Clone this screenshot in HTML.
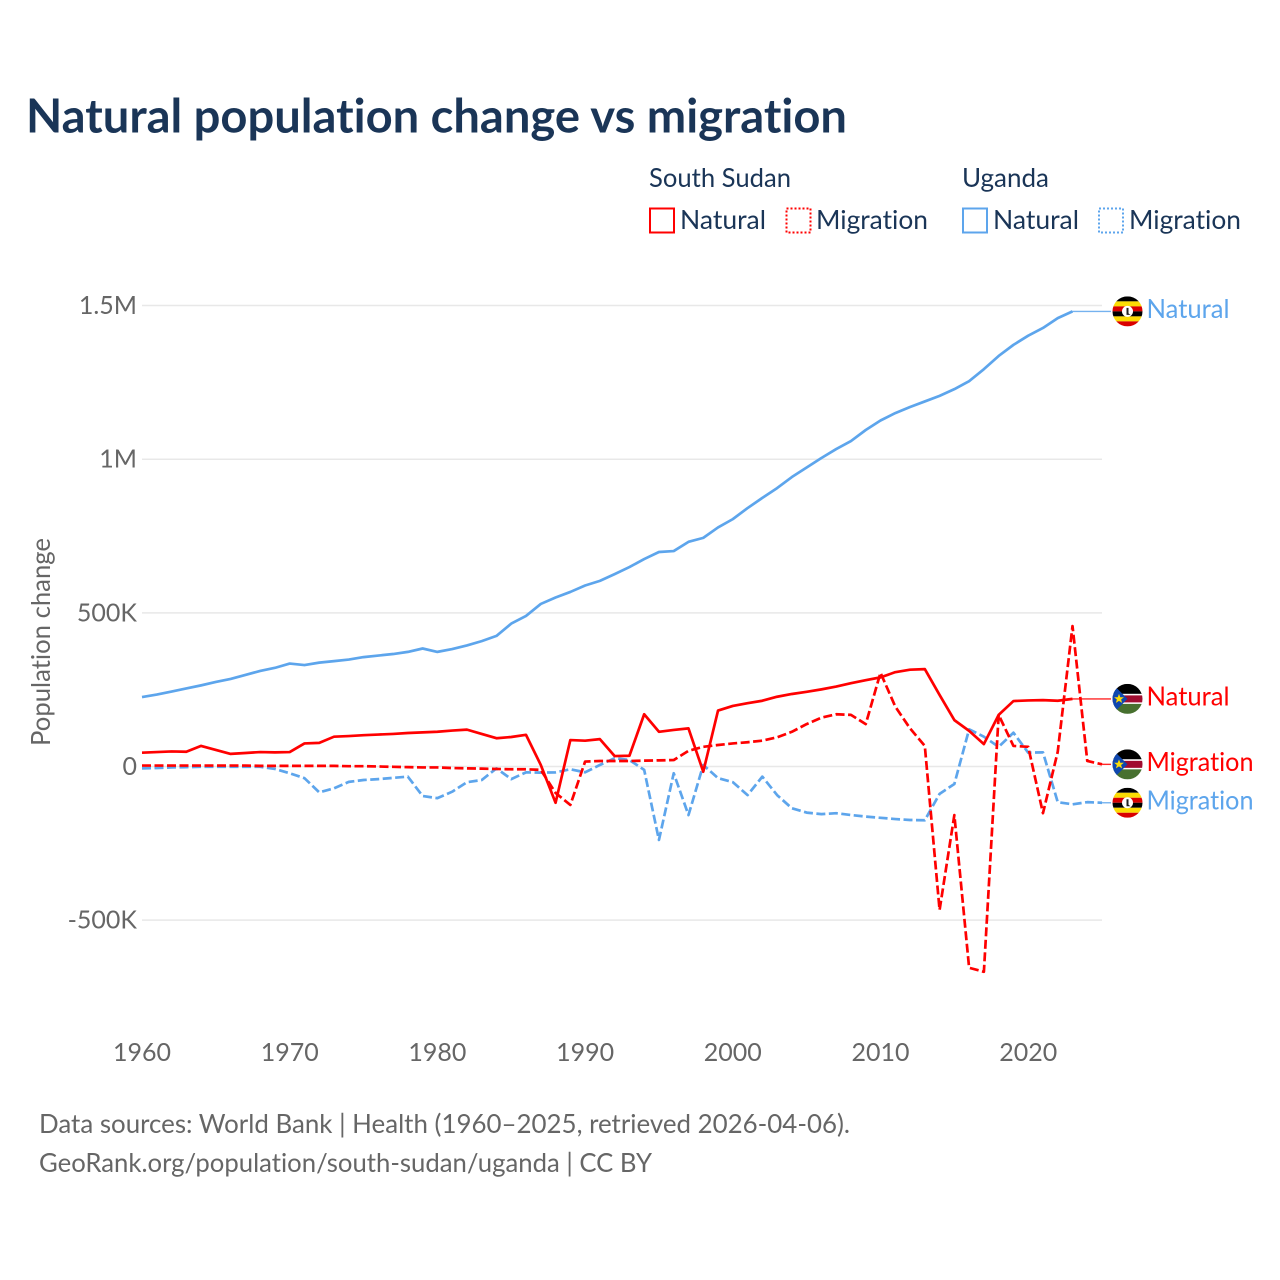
<!DOCTYPE html>
<html lang="en">
<head>
<meta charset="utf-8">
<title>Natural population change vs migration</title>
<style>
html,body{margin:0;padding:0;background:#fff;}
svg{display:block;}
text{font-family:"Lato","Carlito","Liberation Sans",sans-serif;font-variant-ligatures:none;}
.tick{font-size:25px;fill:#666;}
.note{font-size:26px;fill:#666;}
.leg{font-size:26px;fill:#1a3557;}
.end{font-size:26px;}
</style>
</head>
<body>
<svg id="chart" width="1280" height="1280" viewBox="0 0 1280 1280" xmlns="http://www.w3.org/2000/svg">
<defs>
<clipPath id="flag-clip"><circle cx="0" cy="0" r="15"></circle></clipPath>
<g id="flag-ug" clip-path="url(#flag-clip)">
<rect x="-15" y="-15" width="30" height="5" fill="#000"></rect>
<rect x="-15" y="-10" width="30" height="5" fill="#fcdc04"></rect>
<rect x="-15" y="-5" width="30" height="5" fill="#d90000"></rect>
<rect x="-15" y="0" width="30" height="5" fill="#000"></rect>
<rect x="-15" y="5" width="30" height="5" fill="#fcdc04"></rect>
<rect x="-15" y="10" width="30" height="5" fill="#d90000"></rect>
<circle cx="0" cy="0" r="5.5" fill="#fff"></circle>
<path d="M-1-3.5 L1-3.5 L1 2 L3 3.5 L-1 3.5 Z" fill="#222"></path>
</g>
<g id="flag-ss" clip-path="url(#flag-clip)">
<rect x="-15" y="-15" width="30" height="10" fill="#000"></rect>
<rect x="-15" y="-5" width="30" height="10" fill="#fff"></rect>
<rect x="-15" y="-3.5" width="30" height="7" fill="#a00c30"></rect>
<rect x="-15" y="5" width="30" height="10" fill="#47702f"></rect>
<path d="M-15-15 L0 0 L-15 15 Z" fill="#0f47af"></path>
<path d="M-8.5-5 L-7.2-1.6 L-3.6-1.6 L-6.4 .6 L-5.4 4 L-8.5 2 L-11.6 4 L-10.6 .6 L-13.4-1.6 L-9.8-1.6 Z" fill="#fcdd09"></path>
</g>
</defs>

<text x="26" y="132.5" font-size="47" font-weight="700" fill="#1a3557" textLength="821" lengthAdjust="spacingAndGlyphs">Natural population change vs migration</text>

<g>
<text class="leg" x="649" y="187" textLength="142" lengthAdjust="spacingAndGlyphs">South Sudan</text>
<text class="leg" x="962" y="187" textLength="87" lengthAdjust="spacingAndGlyphs">Uganda</text>
<rect x="650" y="208.5" width="24" height="24" fill="none" stroke="#ff0000" stroke-width="2"></rect>
<text class="leg" x="680" y="229" textLength="86" lengthAdjust="spacingAndGlyphs">Natural</text>
<rect x="786.5" y="208.5" width="24" height="24" fill="none" stroke="#ff0000" stroke-width="2" stroke-dasharray="2 2"></rect>
<text class="leg" x="816" y="229" textLength="112" lengthAdjust="spacingAndGlyphs">Migration</text>
<rect x="963" y="208.5" width="24" height="24" fill="none" stroke="#5da5ec" stroke-width="2"></rect>
<text class="leg" x="993" y="229" textLength="86" lengthAdjust="spacingAndGlyphs">Natural</text>
<rect x="1099" y="208.5" width="24" height="24" fill="none" stroke="#5da5ec" stroke-width="2" stroke-dasharray="2 2"></rect>
<text class="leg" x="1129" y="229" textLength="112" lengthAdjust="spacingAndGlyphs">Migration</text>
</g>

<g id="grid"></g>
<g id="y-labels"></g>
<g id="x-labels"></g>
<text class="note" transform="translate(50,642) rotate(-90)" text-anchor="middle" textLength="208" lengthAdjust="spacingAndGlyphs">Population change</text>

<g id="connectors"></g>
<g id="lines"></g>

<g id="end-ug-nat">
<use href="#flag-ug" x="1127.5" y="0"></use>
<text class="end" x="1146.5" y="6.5" fill="#5da5ec" textLength="83" lengthAdjust="spacingAndGlyphs">Natural</text>
</g>
<g id="end-ss-nat">
<use href="#flag-ss" x="1127.5" y="0"></use>
<text class="end" x="1146.5" y="6.5" fill="#ff0000" textLength="83" lengthAdjust="spacingAndGlyphs">Natural</text>
</g>
<g id="end-ss-mig">
<use href="#flag-ss" x="1127.5" y="0"></use>
<text class="end" x="1146.5" y="6.5" fill="#ff0000" textLength="107" lengthAdjust="spacingAndGlyphs">Migration</text>
</g>
<g id="end-ug-mig">
<use href="#flag-ug" x="1127.5" y="0"></use>
<text class="end" x="1146.5" y="6.5" fill="#5da5ec" textLength="107" lengthAdjust="spacingAndGlyphs">Migration</text>
</g>

<text class="note" x="39" y="1133" textLength="811" lengthAdjust="spacingAndGlyphs">Data sources: World Bank | Health (1960–2025, retrieved 2026-04-06).</text>
<a><text class="note" x="39" y="1172" textLength="613" lengthAdjust="spacingAndGlyphs">GeoRank.org/population/south-sudan/uganda | CC BY</text></a>
</svg>

<script>
// Values in thousands of people, first value is year 1960.
const startYear = 1960;
const xTicks = [1960, 1970, 1980, 1990, 2000, 2010, 2020];
const yTicks = [-500, 0, 500, 1000, 1500];
const yTickLabels = ["-500K", "0", "500K", "1M", "1.5M"];

const ugandaNatural = [226,234,244,254,264,275,285,298,311,321,335,330,338,343,348,356,361,366,373,384,373,382,394,408,425,465,490,529,550,568,589,604,626,649,675,698,701,731,744,778,805,841,874,906,942,973,1004,1033,1059,1095,1126,1150,1170,1188,1206,1228,1254,1293,1336,1372,1402,1427,1459,1481];
const ugandaMigration = [-6,-5,-3,-2,-1,-1,-1,-1,-1,-8,-22,-38,-84,-71,-50,-44,-41,-37,-33,-96,-103,-82,-51,-44,-6,-41,-19,-20,-19,-9,-19,5,27,21,-11,-239,-22,-158,5,-38,-51,-93,-33,-93,-136,-150,-155,-152,-158,-163,-167,-171,-174,-175,-89,-57,121,97,64,110,45,46,-116,-123,-116,-118];
const southSudanNatural = [45,47,49,48,67,54,41,44,47,46,47,75,77,97,99,102,104,106,109,111,113,117,120,106,92,96,103,5,-118,86,84,89,34,35,170,113,119,124,-17,182,197,206,214,227,236,243,251,260,271,281,290,307,315,317,233,151,116,73,168,213,215,216,214,220];
const southSudanMigration = [3,3,3,3,3,3,3,3,2,2,2,2,2,2,1,1,0,-1,-2,-3,-3,-5,-6,-7,-8,-9,-9,-11,-86,-125,16,18,18,18,19,20,21,51,64,70,75,79,84,95,113,138,159,170,168,138,305,195,124,67,-467,-158,-655,-668,168,67,64,-152,48,457,18,7];

const NS = "http://www.w3.org/2000/svg";
const xScale = function (year) { return 142 + (year - 1960) * 14.77; };
const yScale = function (v) { return 766.5 - v * 0.3073; };

const grid = document.getElementById("grid");
const yLabels = document.getElementById("y-labels");
const xLabels = document.getElementById("x-labels");
const linesG = document.getElementById("lines");
const connG = document.getElementById("connectors");

yTicks.forEach(function (t, i) {
  const ln = document.createElementNS(NS, "line");
  ln.setAttribute("x1", 142);
  ln.setAttribute("x2", 1102);
  ln.setAttribute("y1", yScale(t));
  ln.setAttribute("y2", yScale(t));
  ln.setAttribute("stroke", "#e8e8e8");
  ln.setAttribute("stroke-width", "1.5");
  
  
  grid.appendChild(ln);
  const tx = document.createElementNS(NS, "text");
  tx.setAttribute("class", "tick");
  tx.setAttribute("x", 137);
  tx.setAttribute("y", yScale(t) + 8.5);
  tx.setAttribute("text-anchor", "end");
  tx.textContent = yTickLabels[i];
  
  
  yLabels.appendChild(tx);
});

xTicks.forEach(function (t) {
  const tx = document.createElementNS(NS, "text");
  tx.setAttribute("class", "tick");
  tx.setAttribute("x", xScale(t));
  tx.setAttribute("y", 1061);
  tx.setAttribute("text-anchor", "middle");
  tx.textContent = String(t);
  
  
  xLabels.appendChild(tx);
});

function drawSeries(values, color, dashed, name, endId) {
  const d = values.map(function (v, i) {
    return (i ? "L" : "M") + xScale(startYear + i).toFixed(2) + " " + yScale(v).toFixed(2);
  }).join(" ");
  const p = document.createElementNS(NS, "path");
  p.setAttribute("d", d);
  p.setAttribute("fill", "none");
  p.setAttribute("stroke", color);
  p.setAttribute("stroke-width", "2.7");
  p.setAttribute("stroke-linejoin", "round");
  if (dashed) p.setAttribute("stroke-dasharray", "9 3.5");
  
  
  linesG.appendChild(p);

  const last = values[values.length - 1];
  const lastX = xScale(startYear + values.length - 1);
  const c = document.createElementNS(NS, "line");
  c.setAttribute("x1", lastX);
  c.setAttribute("x2", 1111);
  c.setAttribute("y1", yScale(last));
  c.setAttribute("y2", yScale(last));
  c.setAttribute("stroke", color);
  c.setAttribute("stroke-width", "1.4");
  c.setAttribute("stroke-opacity", "0.85");
  
  
  connG.appendChild(c);

  document.getElementById(endId).setAttribute("transform", "translate(0," + yScale(last).toFixed(2) + ")");
}

drawSeries(ugandaNatural, "#5da5ec", false, "line-uganda-natural", "end-ug-nat");
drawSeries(ugandaMigration, "#5da5ec", true, "line-uganda-migration", "end-ug-mig");
drawSeries(southSudanNatural, "#ff0000", false, "line-south-sudan-natural", "end-ss-nat");
drawSeries(southSudanMigration, "#ff0000", true, "line-south-sudan-migration", "end-ss-mig");
</script>
</body>
</html>
